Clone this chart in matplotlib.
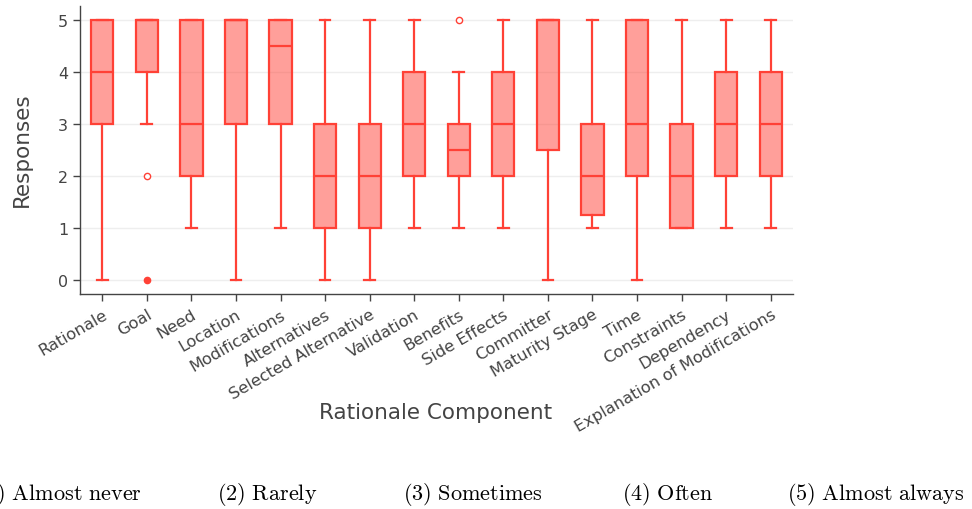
import matplotlib
matplotlib.use("Agg")
import matplotlib.pyplot as plt
from matplotlib.colors import to_rgba

categories = ["Rationale", "Goal", "Need", "Location", "Modifications", "Alternatives",
              "Selected Alternative", "Validation", "Benefits", "Side Effects", "Committer",
              "Maturity Stage", "Time", "Constraints", "Dependency",
              "Explanation of Modifications"]
whislo = [0, 3, 1, 0, 1, 0, 0, 1, 1, 1, 0, 1, 0, 1, 1, 1]
q1     = [3, 4, 2, 3, 3, 1, 1, 2, 2, 2, 2.5, 1.25, 2, 1, 2, 2]
median = [4, 5, 3, 5, 4.5, 2, 2, 3, 2.5, 3, 5, 2, 3, 2, 3, 3]
q3     = [5, 5, 5, 5, 5, 3, 3, 4, 3, 4, 5, 3, 5, 3, 4, 4]
whishi = [5, 5, 5, 5, 5, 5, 5, 5, 4, 5, 5, 5, 5, 5, 5, 5]
# outliers: (category index, value)
suspected_cat = [1, 8]
suspected_val = [2, 5]
outlier_cat = [1]
outlier_val = [0]
legend_items = ["(1) Almost never", "(2) Rarely", "(3) Sometimes", "(4) Often", "(5) Almost always"]

RED = "#FF4136"
TXT = "#444444"
plt.rcParams["font.family"] = ["DejaVu Sans"]
plt.rcParams["mathtext.fontset"] = "cm"

fig = plt.figure(figsize=(9.72, 5.10), dpi=100)
W, H = 972, 510
ax = fig.add_axes([80 / W, 1 - 295 / H, (793 - 80) / W, (295 - 7) / H])

stats = []
for i in range(len(categories)):
    stats.append(dict(whislo=whislo[i], q1=q1[i], med=median[i], q3=q3[i],
                      whishi=whishi[i], fliers=[], label=categories[i]))
pos = list(range(len(categories)))
ax.bxp(stats, positions=pos, widths=0.5, capwidths=0.24, patch_artist=True,
       showfliers=False,
       boxprops=dict(facecolor=to_rgba(RED, 0.5), edgecolor=RED, linewidth=1.6),
       medianprops=dict(color=RED, linewidth=1.6),
       whiskerprops=dict(color=RED, linewidth=1.6),
       capprops=dict(color=RED, linewidth=1.6))
ax.plot(suspected_cat, suspected_val, "o", ms=4.5, mfc="white", mec=RED, mew=1.0,
        linestyle="none", zorder=5)
ax.plot(outlier_cat, outlier_val, "o", ms=4.5, mfc=RED, mec=RED, linestyle="none", zorder=5)

ax.set_xlim(-0.5, len(categories) - 0.5)
ax.set_ylim(-0.27, 5.27)
ax.set_yticks(range(6))
ax.set_xticks(pos)
ax.set_xticklabels(categories, rotation=30, ha="right", rotation_mode="anchor",
                   fontsize=11.7, color=TXT)
ax.tick_params(axis="y", labelsize=11.5, labelcolor=TXT, color=TXT, length=5, width=1)
ax.tick_params(axis="x", color=TXT, length=5, width=1, pad=4)
ax.grid(axis="y", color="#eeeeee", linewidth=1)
ax.set_axisbelow(True)
for s in ["top", "right"]:
    ax.spines[s].set_visible(False)
for s in ["left", "bottom"]:
    ax.spines[s].set_color(TXT)
    ax.spines[s].set_linewidth(1)

fig.text(22 / W, 1 - 150 / H, "Responses", rotation=90, ha="center", va="center",
         fontsize=15.5, color=TXT)
fig.text(436 / W, 1 - 413 / H, "Rationale Component", ha="center", va="center",
         fontsize=15.5, color=TXT)

xs = [-23, 217, 403, 622, 787]
for x, t in zip(xs, legend_items):
    tt = t.replace(" ", r"\ ")
    fig.text(x / W, 1 - 500 / H, r"$\mathrm{" + tt + "}$", ha="left", va="baseline",
             fontsize=16, color="black")

fig.savefig("out.png", dpi=100)
